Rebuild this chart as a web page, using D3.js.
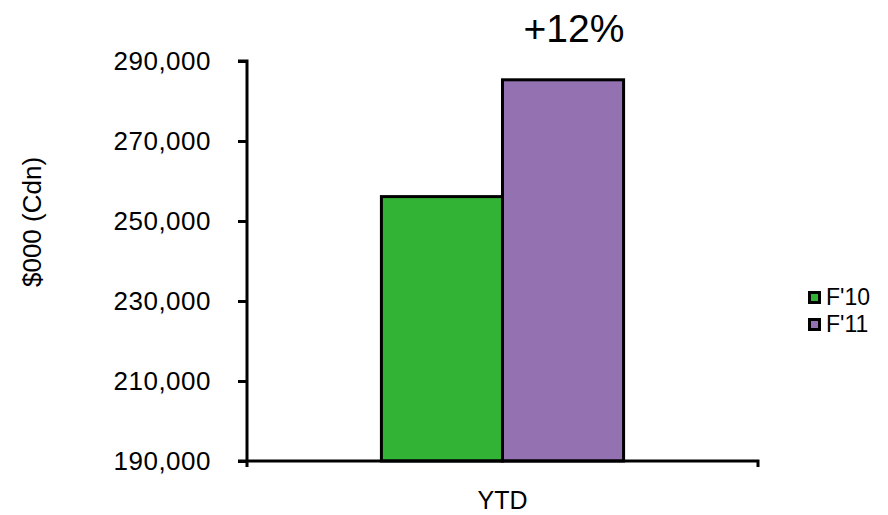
<!DOCTYPE html>
<html><head><meta charset="utf-8">
<script src="https://cdn.jsdelivr.net/npm/d3@7"></script>
<style>body{margin:0;background:#fff}svg{display:block}text{font-family:"Liberation Sans",Arial,sans-serif;fill:#000}</style>
</head><body><svg id="c" width="888" height="515"></svg>
<script>
const categories = ["YTD"];
const series = ["F'10", "F'11"];
const values = [256100, 285300];
const colors = ["#33b335", "#9471b0"];
const yTicks = [190000, 210000, 230000, 250000, 270000, 290000];
const title = "+12%";
const yTitle = "$000 (Cdn)";

const svg = d3.select("#c");
const mLeft = 247, mRight = 758, mTop = 61, mBottom = 461;
const y = d3.scaleLinear().domain([190000, 290000]).range([mBottom, mTop]);
const x0 = d3.scaleBand().domain(categories).range([mLeft, mRight]);
const x1 = d3.scaleBand().domain(series).range([0, x0.bandwidth()]).paddingInner(0).paddingOuter(1.11);

// bars
const g = svg.append("g");
categories.forEach(cat => {
  g.selectAll("rect.b").data(series.map((s, i) => ({s, v: values[i], c: colors[i]})))
    .enter().append("rect")
    .attr("x", d => x0(cat) + x1(d.s))
    .attr("y", d => y(d.v))
    .attr("width", x1.bandwidth())
    .attr("height", d => y(190000) - y(d.v))
    .attr("fill", d => d.c)
    .attr("stroke", "#000").attr("stroke-width", 3);
});

// y axis
const ya = svg.append("g").attr("transform", `translate(${mLeft},0)`)
  .call(d3.axisLeft(y).tickValues(yTicks).tickFormat(d3.format(",")).tickSize(9).tickPadding(27));
ya.select(".domain").attr("d", `M-9,${mTop}H0V${mBottom + 6}`).attr("stroke", "#000").attr("stroke-width", 3).attr("fill", "none");
ya.selectAll(".tick line").attr("stroke", "#000").attr("stroke-width", 3);
ya.selectAll(".tick text").attr("font-size", 26).attr("letter-spacing", "0.5px")
  .style("font-family", "'Liberation Sans',Arial,sans-serif").attr("fill", "#222");

// x axis
const xa = svg.append("g").attr("transform", `translate(0,${mBottom})`)
  .call(d3.axisBottom(x0).tickSize(0).tickPadding(30));
xa.select(".domain").attr("d", `M${mLeft - 9},0H${mRight}V6`).attr("stroke", "#000").attr("stroke-width", 3).attr("fill", "none");
xa.selectAll(".tick text").attr("font-size", 25).style("font-family", "'Liberation Sans',Arial,sans-serif").attr("fill", "#222");

// y title
svg.append("text").attr("transform", "translate(41,222) rotate(-90)")
  .attr("text-anchor", "middle").attr("font-size", 26).attr("fill", "#222").text(yTitle);

// top label
svg.append("text").attr("x", 574).attr("y", 42).attr("text-anchor", "middle")
  .attr("font-size", 39).attr("fill", "#111").text(title);

// legend
const lg = svg.append("g").selectAll("g").data(series).enter().append("g")
  .attr("transform", (d, i) => `translate(808,${291 + i * 27})`);
lg.append("rect").attr("x", 1.5).attr("y", 1.5).attr("width", 10).attr("height", 10)
  .attr("fill", (d, i) => colors[i]).attr("stroke", "#000").attr("stroke-width", 3);
lg.append("text").attr("x", 18).attr("y", 14).attr("font-size", 23).attr("fill", "#222").text(d => d);
</script></body></html>
